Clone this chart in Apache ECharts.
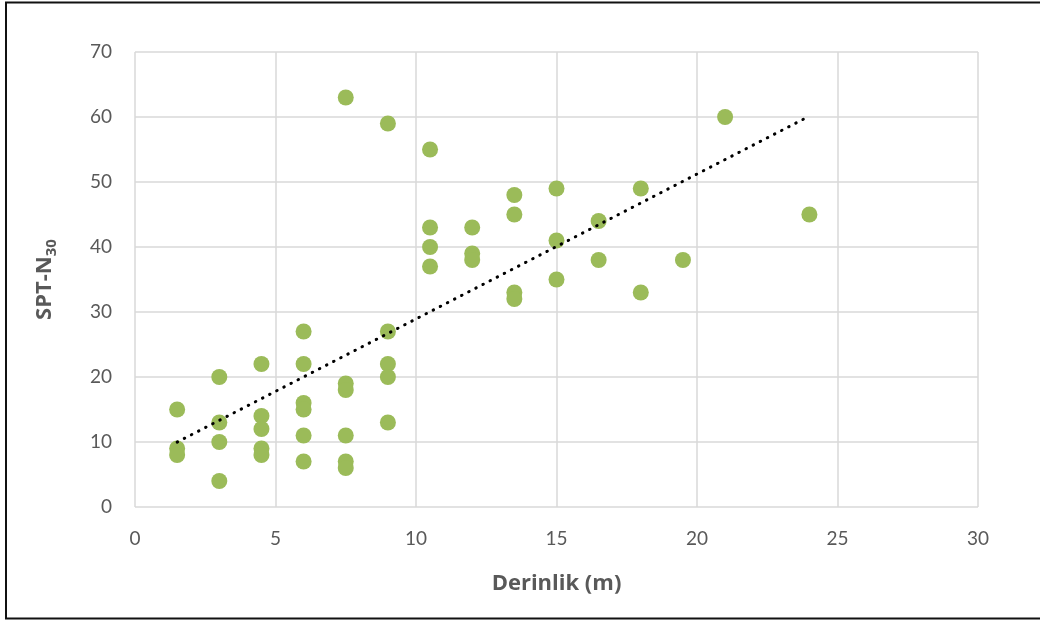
<!DOCTYPE html>
<html>
<head>
<meta charset="utf-8">
<script src="https://cdn.jsdelivr.net/npm/echarts@6/dist/echarts.min.js"></script>
<style>
  html, body { margin: 0; padding: 0; background: #fff; }
  #chart { width: 1040px; height: 621px; }
</style>
</head>
<body>
<div id="chart"></div>
<script>
// Depth (m) and SPT-N30 blow counts
const depth = [
  1.5, 1.5, 1.5,
  3, 3, 3, 3,
  4.5, 4.5, 4.5, 4.5, 4.5,
  6, 6, 6, 6, 6, 6,
  7.5, 7.5, 7.5, 7.5, 7.5, 7.5,
  9, 9, 9, 9, 9,
  10.5, 10.5, 10.5, 10.5,
  12, 12, 12,
  13.5, 13.5, 13.5, 13.5,
  15, 15, 15,
  16.5, 16.5,
  18, 18,
  19.5,
  21,
  24
];
const sptN30 = [
  15, 9, 8,
  20, 13, 10, 4,
  22, 14, 12, 9, 8,
  27, 22, 16, 15, 11, 7,
  63, 19, 18, 11, 7, 6,
  59, 27, 22, 20, 13,
  55, 43, 40, 37,
  43, 39, 38,
  48, 45, 33, 32,
  49, 41, 35,
  44, 38,
  49, 33,
  38,
  60,
  45
];
const xTicks = [0, 5, 10, 15, 20, 25, 30];
const yTicks = [0, 10, 20, 30, 40, 50, 60, 70];

// Least-squares linear trend through the measurements
const n = depth.length;
const mx = depth.reduce((a, b) => a + b, 0) / n;
const my = sptN30.reduce((a, b) => a + b, 0) / n;
let sxy = 0, sxx = 0;
for (let i = 0; i < n; i++) {
  sxy += (depth[i] - mx) * (sptN30[i] - my);
  sxx += (depth[i] - mx) * (depth[i] - mx);
}
const slope = sxy / sxx;
const intercept = my - slope * mx;
const xMin = Math.min(...depth), xMax = Math.max(...depth);
const trend = [[xMin, intercept + slope * xMin], [xMax, intercept + slope * xMax]];

const chart = echarts.init(document.getElementById('chart'), null, { renderer: 'canvas' });
const tickFont = 'Lato, "Open Sans", sans-serif';
const titleFont = '"Open Sans", Lato, sans-serif';
chart.setOption({
  animation: false,
  backgroundColor: '#fff',
  grid: { left: 135, top: 52, width: 843, height: 455, containLabel: false },
  xAxis: {
    type: 'value',
    min: xTicks[0], max: xTicks[xTicks.length - 1], interval: 5,
    name: 'Derinlik (m)',
    nameLocation: 'middle',
    nameGap: 66,
    nameTextStyle: { color: '#595959', fontSize: 22, fontWeight: 'bold', fontFamily: titleFont },
    axisLine: { show: false },
    axisTick: { show: false },
    axisLabel: { color: '#595959', fontSize: 19, margin: 22, fontFamily: tickFont },
    splitLine: { show: true, lineStyle: { color: '#d9d9d9', width: 1.5 } }
  },
  yAxis: {
    type: 'value',
    min: yTicks[0], max: yTicks[yTicks.length - 1], interval: 10,
    name: '{b|SPT-N}{s|30}',
    nameLocation: 'middle',
    nameRotate: 90,
    nameGap: 76,
    nameTextStyle: {
      rich: {
        b: { color: '#595959', fontSize: 22, fontWeight: 'bold', fontFamily: titleFont },
        s: { color: '#595959', fontSize: 15, fontWeight: 'bold', fontFamily: titleFont, padding: [13, 0, 0, 0] }
      }
    },
    axisLine: { show: false },
    axisTick: { show: false },
    axisLabel: { color: '#595959', fontSize: 19, margin: 23, fontFamily: tickFont },
    splitLine: { show: true, lineStyle: { color: '#d9d9d9', width: 1.5 } }
  },
  graphic: [{
    type: 'rect',
    shape: { x: 6, y: 2.5, width: 1040, height: 616 },
    style: { fill: 'none', stroke: '#111', lineWidth: 2 },
    silent: true
  }],
  series: [
    {
      type: 'scatter',
      data: depth.map((d, i) => [d, sptN30[i]]),
      symbol: 'circle',
      symbolSize: 16,
      itemStyle: { color: '#9BBB59', opacity: 1 },
      z: 2
    },
    {
      type: 'line',
      data: trend,
      symbol: 'none',
      lineStyle: { color: '#000', width: 3, type: [0.5, 7.5], cap: 'round' },
      z: 3
    }
  ]
});
</script>
</body>
</html>
